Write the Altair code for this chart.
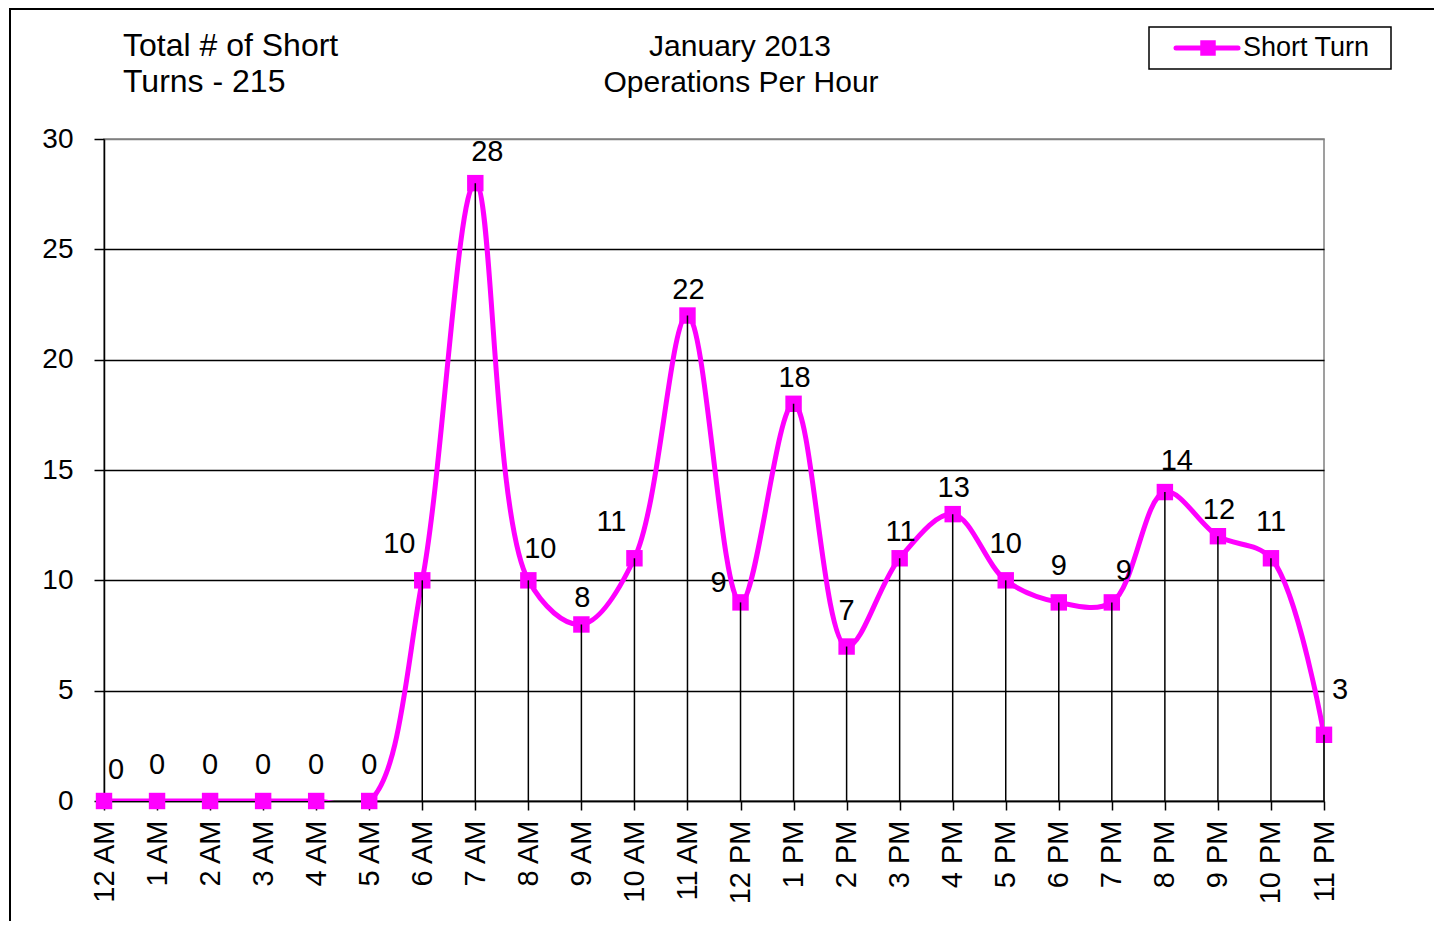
import altair as alt
import pandas as pd

# ---- data ----
hours = ["12 AM", "1 AM", "2 AM", "3 AM", "4 AM", "5 AM", "6 AM", "7 AM", "8 AM",
         "9 AM", "10 AM", "11 AM", "12 PM", "1 PM", "2 PM", "3 PM", "4 PM", "5 PM",
         "6 PM", "7 PM", "8 PM", "9 PM", "10 PM", "11 PM"]
counts = [0, 0, 0, 0, 0, 0, 10, 28, 10, 8, 11, 22, 9, 18, 7, 11, 13, 10, 9, 9, 14, 12, 11, 3]
label_place = ["upright", "hi", "hi", "hi", "hi", "hi", "upleft", "upright", "upright",
               "lo", "upleft", "lo", "left", "lo", "hi", "lo", "lo", "hi",
               "hi", "upright", "upright", "lo", "hi", "right"]
y_ticks = [0, 5, 10, 15, 20, 25, 30]
title_left = ["Total # of Short", "Turns - 215"]
title_center = ["January 2013", "Operations Per Hour"]
series_name = "Short Turn"

# ---- style ----
FONT = "Liberation Sans"
MAGENTA = "#FF00FF"
W, H = 1220, 662
place_offsets = {
    "hi": (0, -36),
    "lo": (1, -26),
    "upright": (12, -31),
    "upleft": (-23, -36),
    "left": (-22, -19),
    "right": (16, -45),
}

df = pd.DataFrame({"hour": hours, "count": counts, "place": label_place})
one = pd.DataFrame({"k": [0]})

x = alt.X("hour:N", sort=hours,
          scale=alt.Scale(type="point", padding=0),
          axis=alt.Axis(title=None, labelAngle=270, labelFontSize=29, labelFont=FONT,
                        labelColor="black", tickColor="black", tickSize=9, tickWidth=1.5,
                        domainColor="black", domainWidth=1.5, labelPadding=10, grid=False))
y = alt.Y("count:Q",
          scale=alt.Scale(domain=[0, 30], nice=False),
          axis=alt.Axis(title=None, values=y_ticks, labelFontSize=28, labelFont=FONT,
                        labelColor="black", tickColor="black", tickSize=10, tickWidth=1.5,
                        domainColor="black", domainWidth=1.5, labelPadding=21,
                        grid=True, gridWidth=1.5,
                        gridColor={"condition": {"test": "datum.value === 30", "value": "#808080"},
                                   "value": "black"}))

base = alt.Chart(df).encode(x=x, y=y)

line = base.mark_line(color=MAGENTA, strokeWidth=5, interpolate="catmull-rom", clip=True)
points = base.mark_point(shape="square", filled=True, size=270, color=MAGENTA, opacity=1)
drops = base.mark_rule(color="black", strokeWidth=1.5).encode(y2=alt.datum(0))

label_layers = []
for name, (ddx, ddy) in place_offsets.items():
    label_layers.append(
        base.transform_filter(alt.datum.place == name)
        .mark_text(dx=ddx, dy=ddy, fontSize=29, font=FONT, color="black", baseline="middle")
        .encode(text="count:Q")
    )

def txt(s, px, py, size=32, align="left"):
    return alt.Chart(one).mark_text(fontSize=size, font=FONT, color="black", align=align,
                                     baseline="middle").encode(
        x=alt.value(px), y=alt.value(py), text=alt.value(s))

titles = [
    txt(title_left[0], 19, -93),
    txt(title_left[1], 19, -57),
    txt(title_center[0], 636, -92, size=30, align="center"),
    txt(title_center[1], 637, -56, size=30, align="center"),
]

frame_left = alt.Chart(one).mark_rule(color="black", strokeWidth=2).encode(
    x=alt.value(-94), y=alt.value(-131), y2=alt.value(H + 200))
frame_top = alt.Chart(one).mark_rule(color="black", strokeWidth=2).encode(
    x=alt.value(-95), x2=alt.value(W + 300), y=alt.value(-130))

legend_box = alt.Chart(one).mark_rect(fill="white", stroke="black", strokeWidth=1.5).encode(
    x=alt.value(1045), x2=alt.value(1287), y=alt.value(-112), y2=alt.value(-70))
legend_line = alt.Chart(one).mark_rule(color=MAGENTA, strokeWidth=5, strokeCap="round").encode(
    x=alt.value(1072), x2=alt.value(1134), y=alt.value(-91))
legend_pt = alt.Chart(one).mark_point(shape="square", filled=True, size=240, color=MAGENTA,
                                      opacity=1).encode(x=alt.value(1104), y=alt.value(-91))
legend_txt = txt(series_name, 1139, -91, size=27)

chart = alt.layer(
    line, points, drops, *label_layers, *titles,
    frame_left, frame_top, legend_box, legend_line, legend_pt, legend_txt
).properties(
    width=W, height=H,
    padding={"left": 96, "top": 131, "right": 110, "bottom": 120},
    autosize=alt.AutoSizeParams(type="none"),
    background="white",
).configure_view(stroke="#808080", strokeWidth=1.5)

chart.save("out.html", embed_options={"renderer": "svg", "actions": False})
